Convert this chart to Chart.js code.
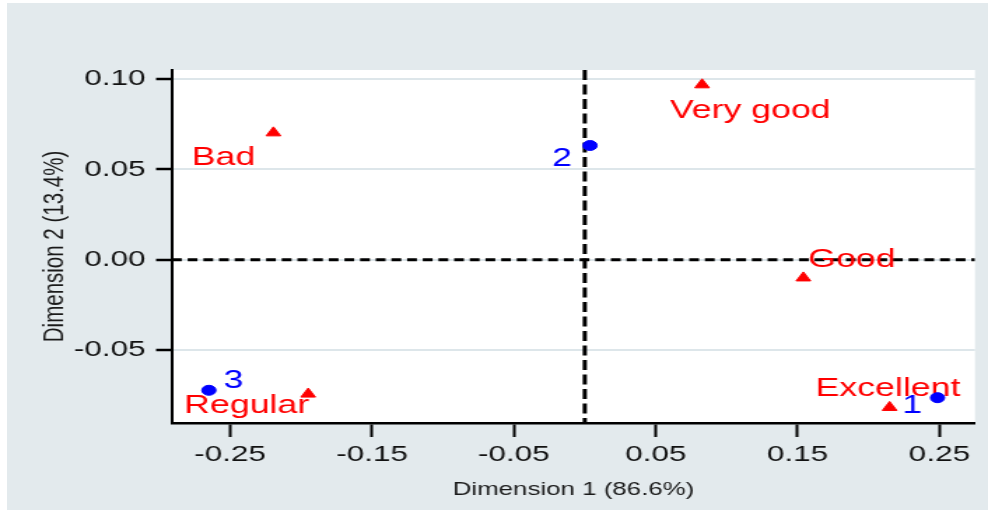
<!DOCTYPE html>
<html>
<head>
<meta charset="utf-8">
<script src="https://cdn.jsdelivr.net/npm/chart.js@4.4.1/dist/chart.umd.min.js"></script>
<style>
  body { margin: 0; background: #fff; }
  #wrap { position: absolute; left: 7px; top: 3px; width: 981px; height: 507px; background: #e3eaed; overflow: hidden; }
  /* the original picture is stretched sideways, so the canvas is too */
  #c { display: block; width: 701px; height: 507px; transform: scaleX(1.39943); transform-origin: 0 0; }
</style>
</head>
<body>
<div id="wrap"><canvas id="c" width="701" height="507"></canvas></div>
<script>
// Row points (blue)
var rowLabels = ['1', '2', '3'];
var rowDim1 = [0.2487, 0.0037, -0.2650];
var rowDim2 = [-0.0764, 0.0632, -0.0723];

// Column points (red)
var colLabels = ['Excellent', 'Very good', 'Good', 'Bad', 'Regular'];
var colDim1 = [0.2149, 0.0827, 0.1541, -0.2195, -0.1950];
var colDim2 = [-0.0818, 0.0968, -0.0101, 0.0702, -0.0744];

// Axes
var xTicks = [-0.25, -0.15, -0.05, 0.05, 0.15, 0.25];
var yTicks = [-0.05, 0, 0.05, 0.10];
var xRange = [-0.291, 0.2751];
var yRange = [-0.0904, 0.105];
var xTitle = 'Dimension 1 (86.6%)';
var yTitle = 'Dimension 2 (13.4%)';

// label placement next to each marker (left edge / baseline offset, px)
var labelOffset = {
	'Excellent': [-52.9, -11.7],
	'Very good': [-23, 33.3],
	'Good': [3.5, -11.2],
	'Bad': [-58.4, 31.8],
	'Regular': [-88.6, 19],
	'1': [-25.2, 15.3],
	'2': [-27, 20.7],
	'3': [10.6, -2.2]
};

var FONT = '"Liberation Sans", Arial, Helvetica, sans-serif';

function points(xs, ys) {
	return xs.map(function(x, i) { return {x: x, y: ys[i]}; });
}

var plotBg = {
	id: 'plotBg',
	beforeDraw: function(chart) {
		var a = chart.chartArea, ctx = chart.ctx;
		ctx.save();
		ctx.fillStyle = '#ffffff';
		ctx.fillRect(a.left, a.top, a.right - a.left, a.bottom - a.top);
		ctx.restore();
	}
};

var markerLabels = {
	id: 'markerLabels',
	afterDatasetDraw: function(chart, args) {
		var ds = chart.data.datasets[args.index];
		if (!ds.labels) return;
		var ctx = chart.ctx;
		ctx.save();
		ctx.font = '25.5px ' + FONT;
		ctx.fillStyle = ds.labelColor;
		ctx.textAlign = 'left';
		ctx.textBaseline = 'alphabetic';
		args.meta.data.forEach(function(el, i) {
			var off = labelOffset[ds.labels[i]];
			ctx.fillText(ds.labels[i], el.x + off[0], el.y + off[1]);
		});
		ctx.restore();
	}
};

var ctx = document.getElementById('c').getContext('2d');
var caPlot = new Chart(ctx, {
	type: 'scatter',
	data: {
		datasets: [{
			label: 'rows',
			data: points(rowDim1, rowDim2),
			labels: rowLabels,
			labelColor: '#0000ff',
			pointStyle: 'circle',
			pointRadius: 5,
			backgroundColor: '#0000ff',
			borderColor: '#0000ff',
			borderWidth: 1,
			order: 1
		}, {
			label: 'columns',
			data: points(colDim1, colDim2),
			labels: colLabels,
			labelColor: '#ff0000',
			pointStyle: 'triangle',
			pointRadius: 6,
			backgroundColor: '#ff0000',
			borderColor: '#ff0000',
			borderWidth: 1,
			order: 2
		}, {
			data: [{x: 0, y: yRange[1]}, {x: 0, y: yRange[0]}],
			showLine: true,
			pointRadius: 0,
			borderColor: '#000',
			borderWidth: 3,
			borderDash: [10, 4.5],
			order: 3
		}, {
			data: [{x: xRange[0], y: 0}, {x: xRange[1], y: 0}],
			showLine: true,
			pointRadius: 0,
			borderColor: '#000',
			borderWidth: 3,
			borderDash: [7, 4.2],
			order: 3
		}]
	},
	options: {
		responsive: false,
		devicePixelRatio: 1,
		animation: false,
		events: [],
		layout: { padding: { top: 67, right: 9.3, left: 0, bottom: 0 } },
		plugins: {
			legend: { display: false },
			tooltip: { enabled: false }
		},
		scales: {
			x: {
				type: 'linear',
				min: xRange[0],
				max: xRange[1],
				afterBuildTicks: function(s) { s.ticks = xTicks.map(function(v) { return {value: v}; }); },
				afterFit: function(s) { s.height = 87; },
				grid: { drawOnChartArea: false, drawTicks: true, tickLength: 14, tickWidth: 2, tickColor: '#000' },
				border: { display: true, color: '#000', width: 2.5 },
				ticks: {
					color: '#111',
					font: { family: FONT, size: 22.5 },
					padding: 4,
					maxRotation: 0,
					autoSkip: false,
					callback: function(v) { return Number(v).toFixed(2); }
				},
				title: {
					display: true,
					text: xTitle,
					color: '#1a1a1a',
					font: { family: FONT, size: 18.5 },
					padding: { top: 0, bottom: 9 }
				}
			},
			y: {
				type: 'linear',
				min: yRange[0],
				max: yRange[1],
				afterBuildTicks: function(s) { s.ticks = yTicks.map(function(v) { return {value: v}; }); },
				afterFit: function(s) { s.width = 117.9; },
				grid: { color: '#dde6ea', lineWidth: 2, drawTicks: true, tickLength: 11.4, tickWidth: 2.5, tickColor: '#000' },
				border: { display: true, color: '#000', width: 2 },
				ticks: {
					color: '#111',
					font: { family: FONT, size: 22.5 },
					padding: 7.4,
					autoSkip: false,
					callback: function(v) { return Number(v).toFixed(2); }
				},
				title: {
					display: true,
					text: yTitle,
					color: '#1a1a1a',
					font: { family: FONT, size: 20.5 },
					padding: { top: 22, bottom: 0 }
				}
			}
		}
	},
	plugins: [plotBg, markerLabels]
});
</script>
</body>
</html>
